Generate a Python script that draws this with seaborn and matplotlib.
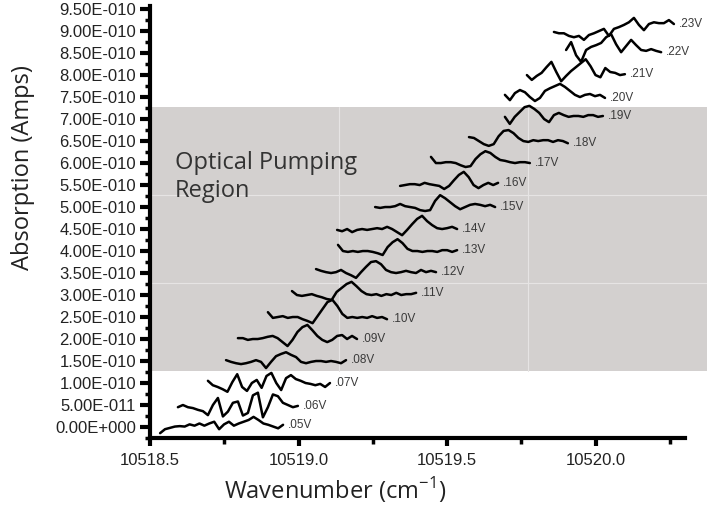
import numpy as np
import pandas as pd
import matplotlib
matplotlib.use('Agg')
import matplotlib.pyplot as plt
import seaborn as sns
from matplotlib.patches import Rectangle
from matplotlib.ticker import FixedLocator, FuncFormatter

# 每条扫描的偏压
voltages = ['.05V', '.06V', '.07V', '.08V', '.09V', '.10V', '.11V', '.12V', '.13V', '.14V',
            '.15V', '.16V', '.17V', '.18V', '.19V', '.20V', '.21V', '.22V', '.23V']

# 扫描起止波数 (cm-1)
scan_start = [10518.534, 10518.594, 10518.695, 10518.756, 10518.796, 10518.897, 10518.978,
              10519.059, 10519.133, 10519.130, 10519.258, 10519.342, 10519.446, 10519.574,
              10519.695, 10519.695, 10519.769, 10519.901, 10519.860]
scan_end = [10518.948, 10518.998, 10519.106, 10519.160, 10519.197, 10519.298, 10519.396,
            10519.463, 10519.534, 10519.534, 10519.662, 10519.672, 10519.779, 10519.907,
            10520.025, 10520.032, 10520.099, 10520.221, 10520.264]

# 吸收信号 (单位 1e-10 A, 已含偏移)
abs_05 = [-0.14, -0.05, -0.02, 0.01, 0.02, 0.01, 0.06, 0.03, 0.08, 0.03, 0.08, 0.12, -0.05,
          0.06, 0.12, 0.03, 0.08, 0.12, 0.16, 0.23, 0.16, 0.08, 0.05, 0.01, -0.03, 0.05]
abs_06 = [0.45, 0.50, 0.45, 0.43, 0.39, 0.36, 0.27, 0.50, 0.66, 0.24, 0.35, 0.55, 0.58,
          0.26, 0.32, 0.72, 0.78, 0.22, 0.45, 0.74, 0.70, 0.55, 0.50, 0.45, 0.48]
abs_07 = [1.05, 0.95, 0.91, 0.86, 0.80, 1.02, 1.20, 0.91, 0.82, 1.00, 1.07, 0.89, 1.16,
          1.23, 1.00, 0.84, 1.11, 1.18, 1.09, 1.05, 1.00, 0.98, 0.95, 0.98, 0.91, 1.00]
abs_08 = [1.52, 1.48, 1.45, 1.43, 1.45, 1.48, 1.52, 1.48, 1.34, 1.48, 1.61, 1.66, 1.70,
          1.64, 1.59, 1.48, 1.45, 1.48, 1.50, 1.50, 1.48, 1.50, 1.48, 1.45, 1.52]
abs_09 = [2.02, 2.02, 1.98, 2.00, 2.00, 2.02, 2.05, 2.07, 2.02, 1.93, 1.84, 1.98, 2.16,
          2.27, 2.32, 2.20, 2.07, 1.98, 1.93, 1.98, 2.07, 2.09, 2.00, 2.07, 2.00]
abs_10 = [2.61, 2.48, 2.50, 2.52, 2.48, 2.50, 2.50, 2.45, 2.41, 2.36, 2.52, 2.68, 2.84,
          2.89, 2.75, 2.57, 2.48, 2.50, 2.48, 2.50, 2.48, 2.52, 2.48, 2.50, 2.45]
abs_11 = [3.09, 3.00, 2.98, 3.00, 3.02, 2.98, 2.95, 2.91, 2.89, 3.07, 3.16, 3.25, 3.30,
          3.20, 3.09, 3.02, 3.00, 3.02, 2.98, 3.02, 3.00, 3.05, 3.00, 3.02, 3.02, 3.05]
abs_12 = [3.59, 3.55, 3.52, 3.50, 3.52, 3.57, 3.50, 3.45, 3.39, 3.52, 3.64, 3.75, 3.77,
          3.70, 3.57, 3.52, 3.50, 3.52, 3.55, 3.52, 3.50, 3.57, 3.52, 3.55, 3.52]
abs_13 = [4.14, 4.00, 3.98, 4.00, 3.98, 4.00, 4.00, 3.98, 3.95, 3.91, 4.09, 4.20, 4.27,
          4.18, 4.05, 4.00, 4.00, 3.98, 4.00, 4.00, 3.98, 4.02, 4.02, 3.98, 4.02]
abs_14 = [4.48, 4.45, 4.50, 4.43, 4.48, 4.50, 4.48, 4.50, 4.52, 4.50, 4.55, 4.50, 4.43,
          4.36, 4.48, 4.61, 4.73, 4.80, 4.68, 4.59, 4.52, 4.50, 4.52, 4.55, 4.50]
abs_15 = [5.00, 4.98, 5.00, 5.00, 5.02, 5.07, 5.02, 5.00, 4.98, 4.93, 4.91, 4.93, 5.14,
          5.27, 5.20, 5.11, 5.02, 4.95, 5.00, 5.05, 5.07, 5.05, 5.02, 5.05, 5.00]
abs_16 = [5.48, 5.50, 5.52, 5.52, 5.50, 5.55, 5.52, 5.50, 5.48, 5.41, 5.48, 5.61, 5.73,
          5.80, 5.68, 5.50, 5.43, 5.50, 5.55, 5.50, 5.55]
abs_17 = [6.14, 6.00, 6.00, 6.02, 6.02, 6.00, 5.95, 5.91, 5.93, 6.09, 6.20, 6.27, 6.23,
          6.14, 6.07, 6.05, 6.02, 6.00, 6.02, 6.02, 6.00]
abs_18 = [6.59, 6.57, 6.50, 6.43, 6.39, 6.43, 6.61, 6.73, 6.75, 6.68, 6.57, 6.50, 6.48,
          6.52, 6.50, 6.52, 6.52, 6.48, 6.52, 6.50, 6.45]
abs_19 = [7.05, 6.89, 7.05, 7.16, 7.27, 7.30, 7.23, 7.14, 7.00, 6.93, 7.09, 7.14, 7.09,
          7.05, 7.07, 7.07, 7.05, 7.09, 7.09, 7.05, 7.07]
abs_20 = [7.55, 7.43, 7.59, 7.66, 7.61, 7.50, 7.41, 7.48, 7.64, 7.70, 7.75, 7.80, 7.73,
          7.64, 7.55, 7.50, 7.55, 7.57, 7.52, 7.55, 7.48]
abs_21 = [8.00, 7.89, 7.98, 8.05, 8.18, 8.30, 8.07, 7.86, 7.98, 8.09, 8.18, 8.27, 8.36,
          8.20, 8.00, 7.95, 8.16, 8.07, 8.05, 8.00, 8.02]
abs_22 = [8.57, 8.75, 8.45, 8.30, 8.57, 8.64, 8.68, 8.73, 8.86, 8.93, 8.70, 8.52, 8.66,
          8.80, 8.68, 8.57, 8.55, 8.59, 8.55, 8.52]
abs_23 = [8.98, 8.95, 8.95, 8.89, 8.86, 8.89, 8.80, 8.91, 8.95, 9.00, 9.05, 8.89, 9.05,
          9.09, 9.14, 9.20, 9.30, 9.14, 9.02, 9.16, 9.20, 9.18, 9.18, 9.25, 9.16]

traces = [abs_05, abs_06, abs_07, abs_08, abs_09, abs_10, abs_11, abs_12, abs_13, abs_14,
          abs_15, abs_16, abs_17, abs_18, abs_19, abs_20, abs_21, abs_22, abs_23]

# 光泵浦区域 (单位 1e-10 A)
pump_low, pump_high = 1.27, 7.27

y_ticks = [0.0, 0.5, 1.0, 1.5, 2.0, 2.5, 3.0, 3.5, 4.0, 4.5, 5.0, 5.5, 6.0, 6.5, 7.0, 7.5,
           8.0, 8.5, 9.0, 9.5]
x_ticks = [10518.5, 10519.0, 10519.5, 10520.0]

# 整理成长表
frames = []
for v, x0, x1, ys in zip(voltages, scan_start, scan_end, traces):
    frames.append(pd.DataFrame({'scan': v,
                                'wavenumber': np.linspace(x0, x1, len(ys)),
                                'absorption': np.array(ys) * 1e-10}))
df = pd.concat(frames, ignore_index=True)

sns.set_theme(style='ticks')
plt.rcParams['font.family'] = ['Liberation Sans', 'DejaVu Sans']
plt.rcParams['mathtext.fontset'] = 'custom'
plt.rcParams['mathtext.rm'] = 'Open Sans'

fig = plt.figure(figsize=(7.07, 5.07), dpi=100)
ax = fig.add_axes([150 / 707, 69 / 507, 534.6 / 707, 432 / 507])

# 灰色区域, 超出坐标轴右边
x_lo, x_hi = 10518.5, 10520.41
box = Rectangle((x_lo, pump_low * 1e-10), x_hi - x_lo, (pump_high - pump_low) * 1e-10,
                facecolor='#d3d0cf', edgecolor='none', clip_on=False, zorder=0)
ax.add_patch(box)
for k in (1, 2):
    xv = x_lo + k * (x_hi - x_lo) / 3
    yv = (pump_low + k * (pump_high - pump_low) / 3) * 1e-10
    ax.plot([xv, xv], [pump_low * 1e-10, pump_high * 1e-10], color='#e6e4e4', lw=0.8,
            clip_on=False, zorder=0.5)
    ax.plot([x_lo, 10520.375], [yv, yv], color='#e6e4e4', lw=0.8, clip_on=False, zorder=0.5)

sns.lineplot(data=df, x='wavenumber', y='absorption', units='scan', estimator=None,
             sort=False, color='black', lw=1.8, ax=ax)

# 每条曲线末端的电压标注
for v, x1, ys in zip(voltages, scan_end, traces):
    ax.annotate(v, (x1, ys[-1] * 1e-10), xytext=(5, 0), textcoords='offset pixels',
                va='center', ha='left', fontsize=8.5, color='#3a3a3a')

ax.text(10518.585, 6.28e-10, 'Optical Pumping\nRegion', va='top', ha='left',
        fontsize=17, family='Open Sans', color='#333333', linespacing=1.25)

ax.set_xlim(10518.5, 10520.3)
ax.set_ylim(-0.25e-10, 9.57e-10)


def sci_fmt(v, pos):
    mant, ex = f'{v:.2E}'.split('E')
    return f'{mant}E{int(ex):+04d}'


ax.yaxis.set_major_locator(FixedLocator(np.array(y_ticks) * 1e-10))
ax.yaxis.set_minor_locator(FixedLocator((np.array(y_ticks) - 0.25) * 1e-10))
ax.yaxis.set_major_formatter(FuncFormatter(sci_fmt))
ax.xaxis.set_major_locator(FixedLocator(x_ticks))
ax.xaxis.set_minor_locator(FixedLocator([10518.75, 10519.25, 10519.75, 10520.25]))
ax.xaxis.set_major_formatter(FuncFormatter(lambda v, p: f'{v:.1f}'))

sns.despine(ax=ax)
for s in ('left', 'bottom'):
    ax.spines[s].set_linewidth(3)
    ax.spines[s].set_color('black')
ax.tick_params(axis='y', which='major', length=7, width=3, pad=3, labelsize=12,
               labelcolor='#222222', color='black')
ax.tick_params(axis='y', which='minor', length=3.5, width=2.5, color='black')
ax.tick_params(axis='x', which='major', length=6, width=3, pad=5, labelsize=12,
               labelcolor='#222222', color='black')
ax.tick_params(axis='x', which='minor', length=4, width=2.5, color='black')

ax.set_xlabel('Wavenumber (cm$^{-1}$)', family='Open Sans', fontsize=17, color='#222222')
ax.set_ylabel('Absorption (Amps)', family='Open Sans', fontsize=17, color='#222222')
ax.xaxis.set_label_coords(0.346, -0.085)
ax.yaxis.set_label_coords(-0.215, 0.625)

fig.savefig('out.png', dpi=100)
